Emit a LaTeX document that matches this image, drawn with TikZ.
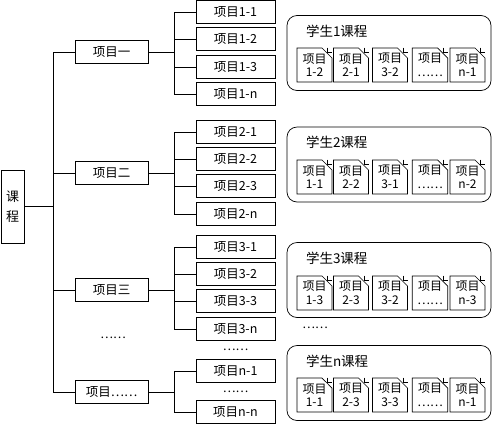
\documentclass[tikz,border=0pt]{standalone}
\usepackage{fontspec}
\setmainfont{Noto Sans CJK SC}
\usetikzlibrary{shapes.misc,calc}

\tikzset{
  rootbox/.style={draw, minimum width=23pt, minimum height=73pt, inner sep=1pt, align=center, font=\fontsize{13}{20}\selectfont},
  itembox/.style={draw, minimum width=73pt, minimum height=23pt, inner sep=1pt, font=\fontsize{12.5}{14}\selectfont},
  leafbox/.style={draw, minimum width=79pt, minimum height=23pt, inner sep=1pt, font=\fontsize{12.5}{14}\selectfont},
  panelbox/.style={draw, rounded corners=10pt, minimum width=204pt, minimum height=75pt},
  docbox/.style={draw, chamfered rectangle, chamfered rectangle corners=north east, chamfered rectangle xsep=5pt, chamfered rectangle ysep=5pt, minimum width=35pt, minimum height=34pt, inner sep=0pt, align=center, font=\fontsize{12}{13.5}\selectfont},
  dots/.style={font=\fontsize{12}{14}\selectfont, inner sep=1pt}
}

\begin{document}
\begin{tikzpicture}[x=1pt, y=-1pt, line width=0.7pt]
      \useasboundingbox (0,0) rectangle (492,424);

      % Root and first level
      \node[rootbox] (root) at (12.5,206.5) {课\\程};
      \node[itembox] (p1) at (111.5,52) {项目一};
      \node[itembox] (p2) at (111.5,173) {项目二};
      \node[itembox] (p3) at (111.5,290) {项目三};
      \node[itembox] (pn) at (111.5,392) {项目……};
      \node[dots] (pdots) at (113,338) {……};

      \coordinate (trunk) at (53,0);
      \coordinate (branch) at (174,0);

      \draw (root.east) -- (root.east -| trunk);
      \draw (p1.west -| trunk) -- (pn.west -| trunk);
      \foreach \p in {p1,p2,p3,pn}
        \draw (\p.west) -- (\p.west -| trunk);

      % Leaves
      \foreach \g/\ya/\yb/\yc/\yd in {1/12/39/67/94, 2/132/159/186/214, 3/247/274/301/329}{
        \node[leafbox] (l\g a) at (235.5,\ya) {项目\g-1};
        \node[leafbox] (l\g b) at (235.5,\yb) {项目\g-2};
        \node[leafbox] (l\g c) at (235.5,\yc) {项目\g-3};
        \node[leafbox] (l\g d) at (235.5,\yd) {项目\g-n};
        \draw (p\g.east) -- (p\g.east -| branch);
        \draw (l\g a.west -| branch) -- (l\g d.west -| branch);
        \foreach \k in {a,b,c,d}
          \draw (l\g\k.west) -- (l\g\k.west -| branch);
      }
      \node[dots] (ldots1) at (235.5,350) {……};
      \node[leafbox] (lna) at (235.5,371) {项目n-1};
      \node[dots] (ldots2) at (235.5,392) {……};
      \node[leafbox] (lnd) at (235.5,412) {项目n-n};
      \draw (pn.east) -- (pn.east -| branch);
      \draw (lna.west -| branch) -- (lnd.west -| branch);
      \foreach \k in {a,d}
        \draw (ln\k.west) -- (ln\k.west -| branch);

      % Student panels
      \foreach \s/\y/\t in {1/53/1, 2/164.5/2, 3/280/3, 4/383/n}{
        \node[panelbox] (s\s) at (389,\y) {};
        \node[anchor=west, font=\fontsize{13.5}{15}\selectfont, inner sep=0pt] (s\s t) at ($(s\s.north west)+(19,16)$) {学生\t 课程};
      }
      \node[dots] (sdots) at (315,328) {……};

      % Documents
      \foreach \s/\y/\la/\lb/\lc/\ln in {1/65/1-2/2-1/3-2/n-1, 2/177/1-1/2-2/3-1/n-2, 3/293/1-3/2-3/3-2/n-3, 4/395/1-1/2-3/3-3/n-1}{
        \node[docbox] (d\s a) at (314.5,\y) {项目\\\la};
        \node[docbox] (d\s b) at (351,\y) {项目\\\lb};
        \node[docbox] (d\s c) at (390,\y) {项目\\\lc};
        \node[docbox] (d\s d) at (430,\y) {项目\\……};
        \node[docbox] (d\s e) at (467.5,\y) {项目\\\ln};
        \foreach \k in {a,b,c,d,e}
          \draw[line width=0.5pt] ($(d\s\k.east |- d\s\k.north)+(-5,0)$) -- ++(0,5) -- ++(5,0);
      }
    \end{tikzpicture}
\end{document}
